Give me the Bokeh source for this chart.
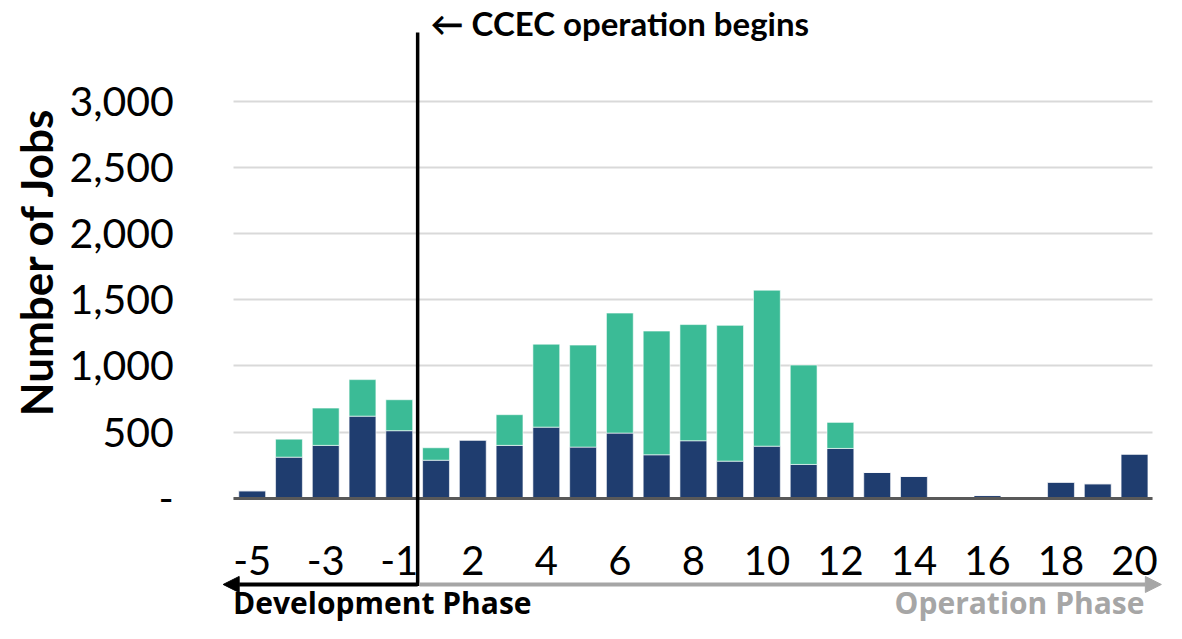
import math
from bokeh.plotting import figure
from bokeh.models import (ColumnDataSource, FixedTicker, Label, Arrow, NormalHead,
                          Range1d, NumeralTickFormatter)
from bokeh.embed import file_html
from bokeh.resources import INLINE

# ---- data ----
categories = [-5, -4, -3, -2, -1, 1, 2, 3, 4, 5, 6, 7, 8, 9, 10,
              11, 12, 13, 14, 15, 16, 17, 18, 19, 20]
jobs_dark = [56, 310, 399, 620, 510, 287, 439, 399, 537, 386, 492, 328, 434,
             280, 393, 255, 376, 194, 164, 0, 20, 0, 121, 109, 333]
jobs_green = [0, 136, 282, 276, 234, 94, 0, 232, 627, 771, 907, 935, 878,
              1026, 1179, 751, 197, 0, 0, 0, 0, 0, 0, 0, 0]
y_ticks = [0, 500, 1000, 1500, 2000, 2500, 3000]

NAVY = "#1f3d6f"
GREEN = "#3bbb96"
GREY = "#a6a6a6"
FONT = "Lato"
FONT2 = "Open Sans"

xs = list(range(len(categories)))
tick_idx = xs[::2]
x_lo, x_hi = -0.5, len(categories) - 0.5
source = ColumnDataSource(dict(x=xs, dark=jobs_dark, green=jobs_green))

# the frame fills the whole canvas so that annotations outside the bar area are not clipped
p = figure(width=1166, height=623, output_backend="svg", toolbar_location=None,
           x_range=Range1d(-6.847, 24.87), y_range=Range1d(-947, 3761),
           min_border_left=0, min_border_right=0, min_border_top=0,
           min_border_bottom=0)
p.outline_line_color = None
p.background_fill_color = "white"

p.vbar_stack(["dark", "green"], x="x", width=0.73, color=[NAVY, GREEN],
             line_color="white", line_width=0.6, source=source)

# x axis (sits on the zero line)
xa = p.xaxis[0]
xa.fixed_location = 0
xa.bounds = (x_lo, x_hi)
xa.ticker = FixedTicker(ticks=tick_idx)
xa.major_label_overrides = {i: str(categories[i]) for i in tick_idx}
xa.axis_line_color = "#595959"
xa.axis_line_width = 3
xa.major_tick_line_color = None
xa.minor_tick_line_color = None
xa.major_label_text_font = FONT
xa.major_label_text_font_size = "40px"
xa.major_label_text_color = "black"
xa.major_label_standoff = 42
p.xgrid.grid_line_color = None

# y axis (sits on the left edge of the bar area)
ya = p.yaxis[0]
ya.fixed_location = x_lo
ya.bounds = (0, 3000)
ya.ticker = FixedTicker(ticks=y_ticks)
ya.formatter = NumeralTickFormatter(format="0,0")
ya.major_label_overrides = {0: "-"}
ya.axis_line_color = None
ya.major_tick_line_color = None
ya.minor_tick_line_color = None
ya.major_label_text_font = FONT
ya.major_label_text_font_size = "41px"
ya.major_label_text_color = "black"
ya.major_label_standoff = 54
p.ygrid.grid_line_color = "#d9d9d9"
p.ygrid.grid_line_width = 2
p.ygrid.cross_bounds = (x_lo, x_hi)

p.add_layout(Label(x=-5.868, y=1789, text="Number of Jobs", angle=math.pi / 2,
                   text_font=FONT, text_font_style="bold", text_font_size="44px",
                   text_color="black", text_baseline="middle", text_align="center"))

# operation start marker (between year -1 and year 1)
split_x = 4.5
arrow_y = -652
p.add_layout(Arrow(x_start=split_x, y_start=3520, x_end=split_x, y_end=arrow_y - 12,
                   end=None, line_color="black", line_width=3.5))
p.add_layout(Arrow(x_start=split_x, y_start=arrow_y, x_end=-0.79, y_end=arrow_y,
                   line_color="black", line_width=4,
                   end=NormalHead(size=16, fill_color="black", line_color="black")))
p.add_layout(Arrow(x_start=split_x + 0.05, y_start=arrow_y, x_end=24.73, y_end=arrow_y,
                   line_color=GREY, line_width=4,
                   end=NormalHead(size=16, fill_color=GREY, line_color=GREY)))

p.add_layout(Label(x=4.851, y=3590, text="\u2190 CCEC operation begins",
                   text_font=FONT, text_font_style="bold", text_font_size="33px",
                   text_color="black", text_baseline="middle", text_align="left"))
p.add_layout(Label(x=-0.52, y=-792, text="Development Phase",
                   text_font=FONT2, text_font_style="bold", text_font_size="30px",
                   text_color="black", text_baseline="middle", text_align="left"))
p.add_layout(Label(x=24.27, y=-792, text="Operation Phase",
                   text_font=FONT2, text_font_style="bold", text_font_size="30px",
                   text_color=GREY, text_baseline="middle", text_align="right"))

open("out.html", "w").write(file_html(p, INLINE))
